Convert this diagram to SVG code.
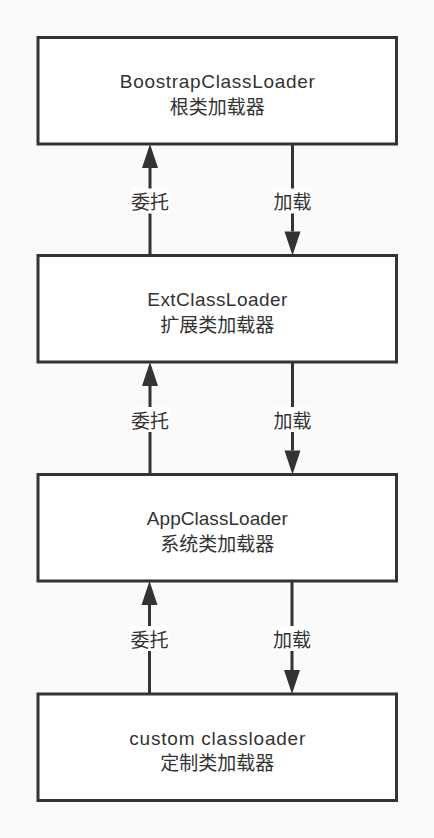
<svg xmlns="http://www.w3.org/2000/svg" width="434" height="838" viewBox="0 0 434 838">
<style>
.box{fill:#ffffff;stroke:#333333;stroke-width:3}
.edge{stroke:#333333;stroke-width:3;fill:none}
.lbg{fill:#ffffff}
text{font-family:"Liberation Sans","Noto Sans CJK SC",sans-serif;font-size:19px;fill:#333333;text-anchor:middle}
.cjk{font-family:"Noto Sans CJK SC","Liberation Sans",sans-serif}
</style>
<defs>
<marker id="arr" markerUnits="userSpaceOnUse" markerWidth="24" markerHeight="16" viewBox="0 -8 24 16" refX="0" refY="0" orient="auto" overflow="visible">
<path d="M0,-8 L24,0 L0,8 z" fill="#333333"/>
</marker>
</defs>
<rect x="0" y="0" width="434" height="838" fill="#fafafa"/>
<g id="n1">
<rect class="box" x="38" y="37.5" width="358.5" height="106.5"/>
<text x="217.3" y="88.3" textLength="195" lengthAdjust="spacing">BoostrapClassLoader</text>
<text class="cjk" x="217.3" y="113.8">根类加载器</text>
</g>
<g id="n2">
<rect class="box" x="38" y="255.5" width="358.5" height="106.5"/>
<text x="217.3" y="306.3" textLength="140" lengthAdjust="spacing">ExtClassLoader</text>
<text class="cjk" x="217.3" y="331.8">扩展类加载器</text>
</g>
<g id="n3">
<rect class="box" x="38" y="474.5" width="358.5" height="106.5"/>
<text x="217.3" y="525.3" textLength="141" lengthAdjust="spacing">AppClassLoader</text>
<text class="cjk" x="217.3" y="550.8">系统类加载器</text>
</g>
<g id="n4">
<rect class="box" x="38" y="694" width="358.5" height="106.5"/>
<text x="217.3" y="745" textLength="176" lengthAdjust="spacing">custom classloader</text>
<text class="cjk" x="217.3" y="770.3">定制类加载器</text>
</g>
<g id="connectors">
<line class="edge" x1="150" y1="255.5" x2="150" y2="168" marker-end="url(#arr)"/>
<line class="edge" x1="292.5" y1="144" x2="292.5" y2="231.5" marker-end="url(#arr)"/>
<rect class="lbg" x="130.5" y="188.5" width="39" height="25"/>
<text class="cjk" x="150" y="209.3">委托</text>
<rect class="lbg" x="273" y="188.5" width="39" height="25"/>
<text class="cjk" x="292.5" y="209.3">加载</text>

<line class="edge" x1="150" y1="474.5" x2="150" y2="386" marker-end="url(#arr)"/>
<line class="edge" x1="292.5" y1="362" x2="292.5" y2="450.5" marker-end="url(#arr)"/>
<rect class="lbg" x="130.5" y="407" width="39" height="25"/>
<text class="cjk" x="150" y="427.8">委托</text>
<rect class="lbg" x="273" y="407" width="39" height="25"/>
<text class="cjk" x="292.5" y="427.8">加载</text>

<line class="edge" x1="149.5" y1="694" x2="149.5" y2="605" marker-end="url(#arr)"/>
<line class="edge" x1="292" y1="581" x2="292" y2="670" marker-end="url(#arr)"/>
<rect class="lbg" x="130" y="626" width="39" height="25"/>
<text class="cjk" x="149.5" y="647">委托</text>
<rect class="lbg" x="272.5" y="626" width="39" height="25"/>
<text class="cjk" x="292" y="647">加载</text>
</g>
</svg>
